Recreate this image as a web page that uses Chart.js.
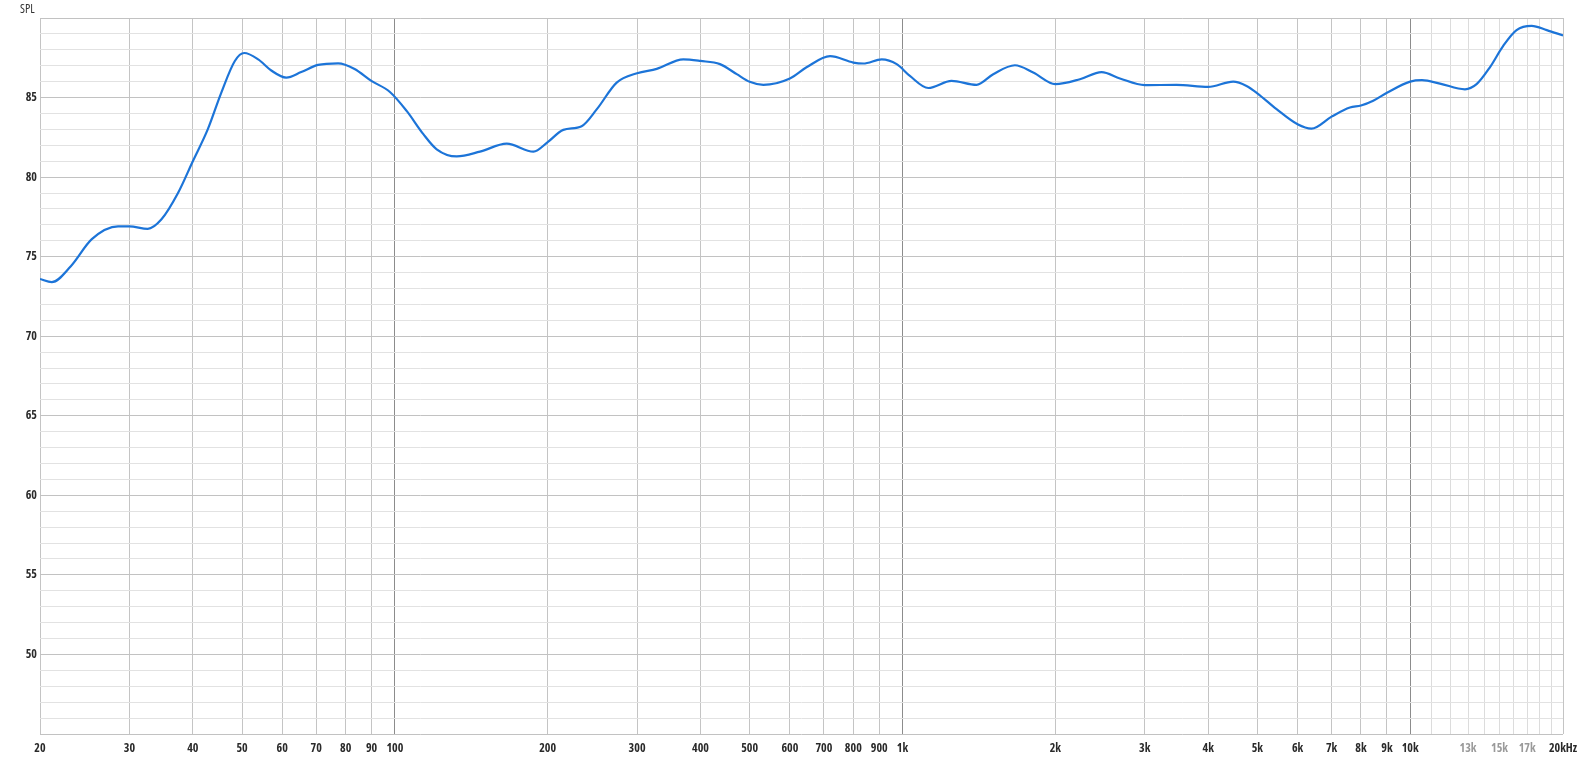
<!DOCTYPE html>
<html>
<head>
<meta charset="utf-8">
<script src="https://cdn.jsdelivr.net/npm/chart.js@4"></script>
<style>
  html, body { margin: 0; padding: 0; background: #fff; }
  #wrap { width: 1583px; height: 758px; position: relative; }
</style>
</head>
<body>
<div id="wrap"><canvas id="graph-spl"></canvas></div>
<script>
const $graphSpl = document.querySelector("#graph-spl");

// frequency points (Hz)
const freqs = [20, 21.1, 23, 25.3, 28.5, 30, 32.6, 34.7, 37.4, 40, 42.8, 45.5, 48.4, 50.5, 53.8,
  57.1, 61.1, 65.4, 70.6, 77.3, 83.3, 89.9, 97.8, 105.5, 113.8, 120.9, 132.4, 147.1, 166.1, 187.5,
  200, 214.7, 233.3, 250, 273.5, 300, 328, 370, 400, 437, 471.5, 500, 532, 600, 647,
  720, 800, 837, 910, 974, 1034, 1124, 1249, 1399, 1509, 1665, 1809, 2000, 2236, 2467,
  2681, 3000, 3466, 4000, 4481, 4761, 5000, 5455, 6000, 6391, 7000, 7608, 8000, 8457, 9000,
  10000, 10550, 11445, 12820, 13515, 14355, 15250, 16200, 17350, 18580, 20000];

// SPL (dB)
const spl = [73.6, 73.4, 74.4, 76.1, 76.9, 76.9, 76.75, 77.35, 79.0, 81.0, 83.0, 85.3, 87.3, 87.8, 87.4,
  86.7, 86.25, 86.6, 87.05, 87.15, 86.8, 86.05, 85.35, 84.16, 82.7, 81.75, 81.3, 81.6, 82.1, 81.6,
  82.2, 82.97, 83.2, 84.27, 85.94, 86.53, 86.8, 87.4, 87.3, 87.1, 86.47, 85.99, 85.8, 86.2, 86.9,
  87.6, 87.2, 87.14, 87.4, 87.1, 86.36, 85.6, 86.05, 85.8, 86.47, 87.03, 86.57, 85.84, 86.15, 86.6,
  86.2, 85.78, 85.8, 85.67, 86.0, 85.73, 85.27, 84.27, 83.32, 83.05, 83.8, 84.37, 84.5, 84.8, 85.3,
  86.0, 86.09, 85.88, 85.52, 85.84, 86.9, 88.25, 89.24, 89.5, 89.24, 88.9];

// vertical grid lines / tick positions
const xTicks = [20, 30, 40, 50, 60, 70, 80, 90, 100, 200, 300, 400, 500, 600, 700, 800, 900,
  1000, 2000, 3000, 4000, 5000, 6000, 7000, 8000, 9000, 10000,
  11000, 12000, 13000, 14000, 15000, 16000, 17000, 18000, 19000, 20000];
const xLabels = {20: "20", 30: "30", 40: "40", 50: "50", 60: "60", 70: "70", 80: "80", 90: "90", 100: "100",
  200: "200", 300: "300", 400: "400", 500: "500", 600: "600", 700: "700", 800: "800", 900: "900",
  1000: "1k", 2000: "2k", 3000: "3k", 4000: "4k", 5000: "5k", 6000: "6k", 7000: "7k", 8000: "8k", 9000: "9k",
  10000: "10k", 13000: "13k", 15000: "15k", 17000: "17k", 20000: "20kHz"};
const greyLabels = [13000, 15000, 17000];
const decades = [100, 1000, 10000];

const fontFam = "'Open Sans', 'DejaVu Sans', sans-serif";

const splTitle = {
    id: "splTitle",
    afterDraw(chart) {
        const ctx = chart.ctx;
        ctx.save();
        ctx.font = "condensed 12px " + fontFam;
        ctx.fillStyle = "#333";
        ctx.textBaseline = "alphabetic";
        ctx.fillText("SPL", 20, 12.5);
        ctx.restore();
    }
};

new Chart($graphSpl, {
    type: "line",
    data: {
        datasets: [{
            label: "SPL",
            data: freqs.map((f, i) => ({x: f, y: spl[i]})),
            borderColor: "#1c74d8",
            borderWidth: 2.2,
            pointRadius: 0,
            cubicInterpolationMode: "monotone",
            fill: false
        }]
    },
    options: {
        responsive: true,
        maintainAspectRatio: false,
        animation: false,
        layout: { padding: { top: 18, right: 20, left: 0, bottom: 0 } },
        plugins: { legend: { display: false }, tooltip: { enabled: false } },
        scales: {
            x: {
                type: "logarithmic",
                min: 20,
                max: 20000,
                afterBuildTicks: (scale) => { scale.ticks = xTicks.map(v => ({value: v})); },
                afterFit: (scale) => { scale.height = 24; scale.paddingLeft = 0; scale.paddingRight = 0; },
                border: { display: false },
                grid: {
                    drawTicks: false,
                    lineWidth: 1,
                    color: (c) => {
                        const v = c.tick ? c.tick.value : 0;
                        if (decades.includes(v)) return "#8c8c8c";
                        if (v > 10000 && v < 20000) return "#dcdcdc";
                        return "#c4c4c4";
                    }
                },
                ticks: {
                    autoSkip: false,
                    maxRotation: 0,
                    padding: 7,
                    font: { family: fontFam, size: 12, weight: "bold condensed" },
                    color: (c) => greyLabels.includes(c.tick.value) ? "#9a9a9a" : "#2a2a2a",
                    callback: (v) => xLabels[v] || ""
                }
            },
            y: {
                min: 45,
                max: 90,
                afterFit: (scale) => { scale.width = 40; },
                border: { display: false },
                grid: {
                    drawTicks: false,
                    color: (c) => (c.tick && c.tick.value % 5 === 0) ? "#c2c2c2" : "#e2e2e2"
                },
                ticks: {
                    stepSize: 1,
                    autoSkip: false,
                    padding: 3,
                    font: { family: fontFam, size: 12, weight: "bold condensed" },
                    color: "#2a2a2a",
                    callback: (v) => (v % 5 === 0 && v !== 45 && v !== 90) ? String(v) : ""
                }
            }
        }
    },
    plugins: [splTitle]
});
</script>
</body>
</html>
